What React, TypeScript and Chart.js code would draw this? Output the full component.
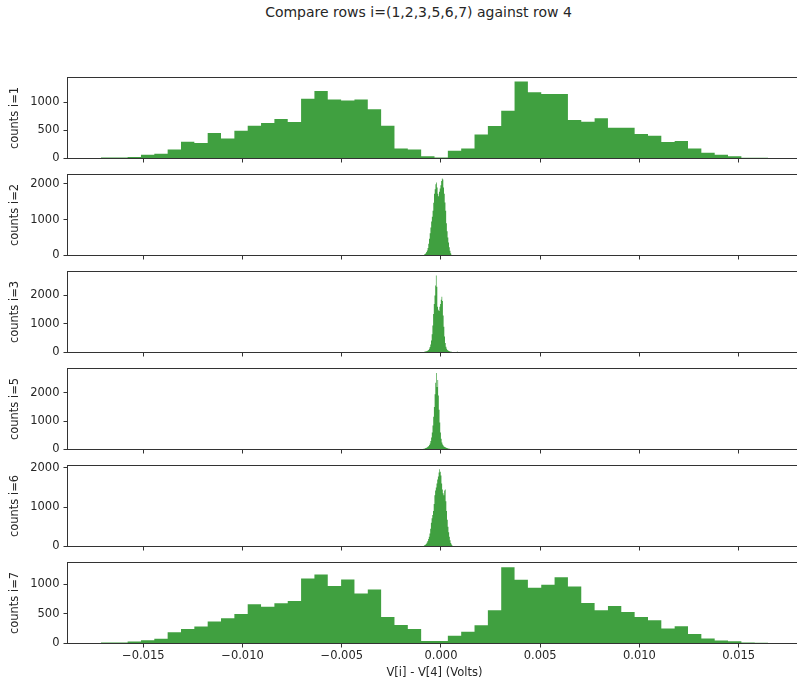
import React, { useEffect, useRef } from 'react';
import { Chart, registerables } from 'chart.js';

Chart.register(...registerables);

// ---------------- data ----------------
const TITLE = 'Compare rows i=(1,2,3,5,6,7) against row 4';
const X_LABEL = 'V[i] - V[4] (Volts)';
const ROW_LABELS = ['counts i=1', 'counts i=2', 'counts i=3', 'counts i=5', 'counts i=6', 'counts i=7'];

const X_MIN = -0.01882;
const X_MAX = 0.01816;
const X_TICKS = [-0.015, -0.01, -0.005, 0, 0.005, 0.01, 0.015];

const Y_MAX = [1441, 2260, 2837, 2855, 2057, 1372];
const Y_TICKS_SMALL = [0, 500, 1000];
const Y_TICKS_LARGE = [0, 1000, 2000];
const Y_TICKS = [Y_TICKS_SMALL, Y_TICKS_LARGE, Y_TICKS_LARGE, Y_TICKS_LARGE, Y_TICKS_LARGE, Y_TICKS_SMALL];

// histogram bin layout (first edge, bin width) per row
const BIN_START = [-0.017135, -0.000892, -0.000892, -0.000957, -0.000932, -0.017135];
const BIN_WIDTH = [0.0006723, 0.000036, 0.0000353, 0.0000353, 0.0000353, 0.0006723];

const COUNTS_1 = [20, 20, 25, 65, 83, 160, 298, 274, 452, 357, 494, 583, 631, 702, 649, 1065, 1202, 1048, 1030, 1048,
  875, 583, 179, 160, 42, 18, 137, 179, 429, 577, 851, 1369, 1179, 1149, 1149, 685, 655, 714, 548, 548,
  435, 405, 292, 310, 179, 101, 65, 42, 12, 12];
const COUNTS_2 = [15, 25, 40, 60, 95, 140, 210, 330, 470, 620, 780, 950, 1080, 1250, 1470, 1720, 1850, 1990, 2040, 1900,
  1720, 1650, 1780, 1870, 1960, 2080, 2150, 2120, 1900, 1720, 1480, 1250, 900, 680, 500, 360, 230, 130, 60, 20];
const COUNTS_3 = [20, 25, 30, 40, 45, 55, 70, 90, 130, 190, 280, 420, 640, 950, 1350, 1700, 2000, 2350, 2700, 2300,
  1600, 1500, 1450, 1600, 1700, 1850, 1950, 1800, 1300, 900, 560, 330, 200, 130, 90, 70, 55, 45, 35, 30,
  25, 15, 10, 5, 0, 0, 0, 20, 35, 15];
const COUNTS_5 = [15, 20, 25, 30, 40, 50, 60, 75, 95, 120, 160, 210, 300, 420, 600, 850, 1150, 1500, 1950, 2350,
  2700, 2200, 2450, 1900, 1400, 950, 600, 380, 250, 180, 140, 110, 90, 75, 60, 50, 40, 35, 30, 25, 20, 15, 10];
const COUNTS_6 = [10, 15, 25, 35, 50, 70, 100, 140, 190, 250, 330, 450, 600, 720, 800, 900, 1080, 1300, 1420, 1500,
  1600, 1700, 1780, 1880, 1960, 1900, 1800, 1600, 1450, 1350, 1300, 1420, 1450, 1150, 900, 680, 500, 360, 250, 160,
  90, 50, 25, 10];
const COUNTS_7 = [17, 17, 34, 56, 79, 191, 247, 287, 371, 427, 500, 663, 624, 680, 719, 1101, 1169, 972, 1084, 848,
  916, 449, 315, 247, 42, 42, 132, 197, 309, 562, 1292, 1079, 944, 994, 1124, 966, 685, 562, 635, 534,
  449, 393, 253, 292, 163, 84, 51, 39, 17, 11];

const COUNTS = [COUNTS_1, COUNTS_2, COUNTS_3, COUNTS_5, COUNTS_6, COUNTS_7];

// ---------------- layout / style ----------------
const PLOT_TOP = [77.5, 174.5, 271.5, 368.5, 465.5, 562.5];
const PLOT_H = 81;
const PLOT_LEFT = 67.5;
const PLOT_RIGHT = 801.4;
const CANVAS_W = 815;
const PAD_TOP = 8.5;
const PAGE_H = 683;
const FILL = 'rgba(0,128,0,0.75)';
const TEXT = '#262626';
const SPINE = '#333333';
const FONT = '"DejaVu Sans", "Liberation Sans", sans-serif';

Chart.defaults.font.family = FONT;
Chart.defaults.font.size = 11.5;
Chart.defaults.color = TEXT;

function histPoints(start: number, width: number, counts: number[]) {
  const pts = counts.map((c, k) => ({ x: start + k * width, y: c }));
  pts.push({ x: start + counts.length * width, y: 0 });
  return pts;
}

function fmtX(v: number) {
  const n = Number(v);
  if (Math.abs(n) < 1e-12) return '0.000';
  const s = Math.abs(n).toFixed(3);
  return n < 0 ? '\u2212' + s : s;
}

const framePlugin = {
  id: 'frame',
  afterDatasetsDraw(chart: any) {
    const { ctx, chartArea: a } = chart;
    ctx.save();
    ctx.strokeStyle = SPINE;
    ctx.lineWidth = 1;
    ctx.strokeRect(a.left, a.top, a.right - a.left, a.bottom - a.top);
    ctx.restore();
  },
};

function canvasTop(i: number) {
  return PLOT_TOP[i] - PAD_TOP;
}
function canvasHeight(i: number) {
  return i === 5 ? PAGE_H - canvasTop(i) : 98;
}

function makeConfig(i: number): any {
  const last = i === 5;
  const xAxisH = canvasHeight(i) - PAD_TOP - PLOT_H;
  return {
    type: 'line',
    data: {
      datasets: [
        {
          data: histPoints(BIN_START[i], BIN_WIDTH[i], COUNTS[i]),
          stepped: true,
          fill: 'origin',
          backgroundColor: FILL,
          borderColor: 'rgba(0,0,0,0)',
          borderWidth: 0,
          pointRadius: 0,
          pointHoverRadius: 0,
        },
      ],
    },
    options: {
      animation: false,
      responsive: false,
      events: [],
      layout: { padding: { top: PAD_TOP, left: 0, right: CANVAS_W - PLOT_RIGHT, bottom: 0 }, autoPadding: false },
      plugins: { legend: { display: false }, tooltip: { enabled: false }, title: { display: false } },
      scales: {
        x: {
          type: 'linear',
          min: X_MIN,
          max: X_MAX,
          afterBuildTicks: (s: any) => {
            s.ticks = X_TICKS.map((v) => ({ value: v }));
          },
          ticks: {
            display: last,
            padding: 2,
            color: TEXT,
            maxRotation: 0,
            minRotation: 0,
            autoSkip: false,
            callback: (v: number) => fmtX(v),
          },
          grid: { display: true, drawOnChartArea: false, drawTicks: true, tickLength: 4, color: SPINE, lineWidth: 1 },
          border: { display: false },
          title: { display: last, text: X_LABEL, color: TEXT, padding: { top: 0, bottom: 3 } },
          afterFit: (s: any) => {
            s.height = xAxisH;
            s.paddingLeft = 0;
            s.paddingRight = 0;
          },
        },
        y: {
          type: 'linear',
          min: 0,
          max: Y_MAX[i],
          afterBuildTicks: (s: any) => {
            s.ticks = Y_TICKS[i].map((v) => ({ value: v }));
          },
          ticks: {
            padding: 4,
            color: TEXT,
            autoSkip: false,
            callback: (v: number) => String(Math.round(v)),
          },
          grid: { display: true, drawOnChartArea: false, drawTicks: true, tickLength: 4, color: SPINE, lineWidth: 1 },
          border: { display: false },
          title: { display: true, text: ROW_LABELS[i], color: TEXT, padding: { top: 8, bottom: 0 } },
          afterFit: (s: any) => {
            s.width = PLOT_LEFT;
            s.paddingTop = 0;
            s.paddingBottom = 0;
          },
        },
      },
    },
    plugins: [framePlugin],
  };
}

export default function App() {
  const refs = useRef<(HTMLCanvasElement | null)[]>([]);

  useEffect(() => {
    document.body.style.margin = '0';
    const charts = COUNTS.map((_, i) => new Chart(refs.current[i] as HTMLCanvasElement, makeConfig(i)));
    return () => charts.forEach((c) => c.destroy());
  }, []);

  return (
    <div style={{ position: 'relative', width: 797, height: PAGE_H, overflow: 'hidden', background: '#fff' }}>
      <style>{'body{margin:0}'}</style>
      <div
        style={{
          position: 'absolute',
          top: 4,
          left: 0,
          width: 837,
          textAlign: 'center',
          fontFamily: FONT,
          fontSize: 14,
          lineHeight: '16px',
          color: TEXT,
          whiteSpace: 'nowrap',
        }}
      >
        {TITLE}
      </div>
      {COUNTS.map((_, i) => (
        <canvas
          key={i}
          ref={(el) => {
            refs.current[i] = el;
          }}
          width={CANVAS_W}
          height={canvasHeight(i)}
          style={{
            position: 'absolute',
            left: 0,
            top: canvasTop(i),
            width: CANVAS_W,
            height: canvasHeight(i),
          }}
        />
      ))}
    </div>
  );
}
